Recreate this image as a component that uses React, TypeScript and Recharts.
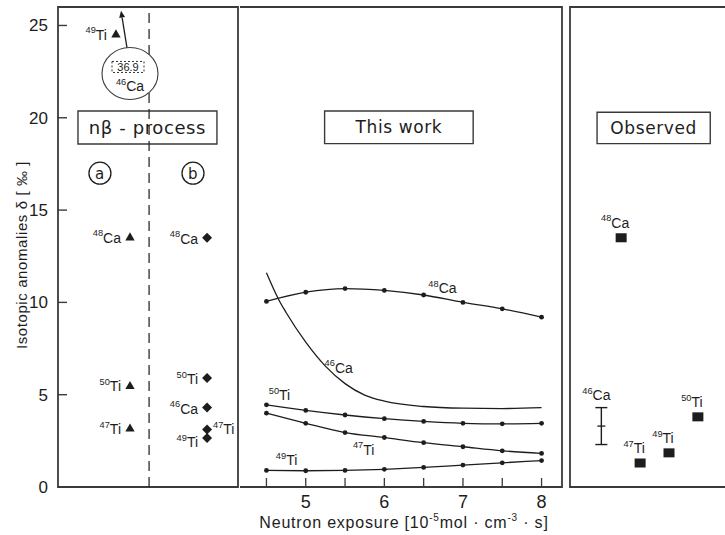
import React from "react";
import {
  ScatterChart,
  Scatter,
  LineChart,
  Line,
  XAxis,
  YAxis,
  ReferenceArea,
  ReferenceLine,
  ReferenceDot,
  ErrorBar,
  Symbols,
} from "recharts";

const INK = "#1d1d1d";
const FRAME = "#3a3a3a";
const NARROW = "'Liberation Sans', Arial, sans-serif";
const PLAIN = "'DejaVu Sans', 'Liberation Sans', sans-serif";

const Y_DOMAIN: [number, number] = [0, 26];
const Y_TICKS = [0, 5, 10, 15, 20, 25];

// left panel: nβ-process, model (a) triangles, model (b) diamonds
const NB_A_ISO = ["49Ti", "48Ca", "50Ti", "47Ti"];
const NB_A_POS = [3.22, 4, 4, 4];
const NB_A_VAL = [24.5, 13.5, 5.45, 3.15];
const NB_B_ISO = ["48Ca", "50Ti", "46Ca", "47Ti", "49Ti"];
const NB_B_POS = [8.28, 8.28, 8.28, 8.28, 8.28];
const NB_B_VAL = [13.5, 5.9, 4.3, 3.12, 2.65];
const NB_CA46 = 36.9; // off scale, shown as a circled note

// middle panel: "This work"
const EXPOSURE = [4.5, 5, 5.5, 6, 6.5, 7, 7.5, 8];
const X_TICKS = [4.5, 5, 5.5, 6, 6.5, 7, 7.5, 8];
const CA48 = [10.05, 10.55, 10.75, 10.65, 10.4, 10.0, 9.65, 9.2];
const TI50 = [4.45, 4.15, 3.9, 3.7, 3.55, 3.45, 3.42, 3.45];
const TI47 = [4.0, 3.45, 2.95, 2.68, 2.4, 2.18, 1.96, 1.82];
const TI49 = [0.9, 0.88, 0.9, 0.96, 1.06, 1.19, 1.31, 1.43];
const CA46_X = [4.5, 4.65, 4.75, 5, 5.25, 5.5, 5.75, 6, 6.5, 7, 7.5, 8];
const CA46 = [11.6, 10.2, 9.45, 7.85, 6.55, 5.6, 4.98, 4.65, 4.36, 4.27, 4.25, 4.3];

// right panel: observed
const OBS_ISO = ["48Ca", "47Ti", "49Ti", "50Ti"];
const OBS_POS = [3.1, 4.25, 6.0, 7.75];
const OBS_VAL = [13.5, 1.3, 1.85, 3.8];
const OBS_CA46_POS = 1.9;
const OBS_CA46_VAL = 3.3;
const OBS_CA46_ERR = 1.0;

const rows = (iso: string[], pos: number[], val: number[]) =>
  iso.map((s, i) => ({ iso: s, x: pos[i], y: val[i] }));
const series = (xs: number[], ys: number[]) => xs.map((x, i) => ({ x, v: ys[i] }));

// isotope label like ⁴⁸Ca
function Iso({ x, y, iso, anchor = "start", size = 14 }: any) {
  const m = iso.match(/^(\d+)(.*)$/);
  return (
    <text x={x} y={y} textAnchor={anchor} fontFamily={NARROW} fill={INK}>
      <tspan fontSize={size * 0.66} dy={-size * 0.45}>{m[1]}</tspan>
      <tspan fontSize={size} dy={size * 0.45}>{m[2]}</tspan>
    </text>
  );
}

const boxLabel = (text: string, size = 17) => (props: any) => {
  const vb = props.viewBox || {};
  return (
    <text
      x={vb.x + vb.width / 2}
      y={vb.y + vb.height / 2 + size * 0.36}
      textAnchor="middle"
      fontSize={size}
      fontFamily={PLAIN}
      letterSpacing={0.6}
      fill={INK}
    >
      {text}
    </text>
  );
};

function YTick({ x, y, payload }: any) {
  return (
    <g>
      {payload.value > 0 && <line x1={x} x2={x + 9} y1={y} y2={y} stroke={FRAME} strokeWidth={1.4} />}
      <text x={x - 10} y={y + 6} textAnchor="end" fontSize={17} fontFamily={NARROW} fill={INK}>
        {payload.value}
      </text>
    </g>
  );
}

function XTick({ x, y, payload }: any) {
  const v = payload.value;
  return (
    <g>
      <line x1={x} x2={x} y1={y} y2={y - 9} stroke={FRAME} strokeWidth={1.3} />
      {Number.isInteger(v) && (
        <text x={x} y={y + 21} textAnchor="middle" fontSize={18} fontFamily={NARROW} fill={INK}>
          {v}
        </text>
      )}
    </g>
  );
}

const yLabel = (props: any) => {
  const vb = props.viewBox || { x: 0, y: 7, width: 58, height: 480 };
  const cx = vb.x + 27;
  const cy = vb.y + vb.height / 2 + 8;
  return (
    <text
      transform={`translate(${cx},${cy}) rotate(-90)`}
      textAnchor="middle"
      fontSize={15}
      fontFamily={NARROW}
      letterSpacing={0.6}
      fill={INK}
    >
      Isotopic anomalies δ [ ‰ ]
    </text>
  );
};

const xLabel = (props: any) => {
  const vb = props.viewBox || { x: 6, y: 487, width: 316, height: 48 };
  return (
    <text
      x={vb.x + vb.width / 2}
      y={vb.y + 41}
      textAnchor="middle"
      fontSize={16}
      fontFamily={NARROW}
      fill={INK}
      letterSpacing={0.8}
    >
      <tspan>Neutron exposure [10</tspan>
      <tspan fontSize={10} dy={-7}>-5</tspan>
      <tspan dy={7}>mol · cm</tspan>
      <tspan fontSize={10} dy={-7}>-3</tspan>
      <tspan dy={7}> · s]</tspan>
    </text>
  );
};

const frame = (x2: number) => (
  <ReferenceArea x1={0} x2={x2} y1={0} y2={26} fill="none" stroke={FRAME} strokeWidth={1.8} ifOverflow="visible" />
);

function LeftPanel() {
  const a = rows(NB_A_ISO, NB_A_POS, NB_A_VAL);
  const b = rows(NB_B_ISO, NB_B_POS, NB_B_VAL);
  return (
    <ScatterChart width={240} height={535} margin={{ top: 7, right: 2, bottom: 48, left: 0 }}>
      <XAxis type="number" dataKey="x" domain={[0, 10]} hide />
      <YAxis
        type="number"
        dataKey="y"
        domain={Y_DOMAIN}
        ticks={Y_TICKS}
        interval={0}
        width={58}
        axisLine={false}
        tickLine={false}
        tickSize={0}
        tickMargin={0}
        tick={<YTick />}
        label={yLabel}
      />
      <ReferenceLine x={5.06} stroke={INK} strokeWidth={1.2} strokeDasharray="10 6" />
      {frame(10)}
      <ReferenceArea x1={1.11} x2={8.83} y1={18.58} y2={20.37} fill="#fff" fillOpacity={1} stroke={FRAME} strokeWidth={1.4} label={boxLabel("nβ - process", 18)} />
      <ReferenceDot x={2.33} y={17} r={11} fill="#fff" stroke={INK} strokeWidth={1.3} label={boxLabel("a", 15)} />
      <ReferenceDot x={7.5} y={17} r={11} fill="#fff" stroke={INK} strokeWidth={1.3} label={boxLabel("b", 15)} />
      <ReferenceDot
        x={4}
        y={22.4}
        r={27}
        shape={(p: any) => (
          <g>
            <ellipse cx={p.cx} cy={p.cy} rx={28} ry={26} fill="#fff" stroke={FRAME} strokeWidth={1.1} />
            <rect x={p.cx - 18} y={p.cy - 12} width={32} height={11} fill="none" stroke={INK} strokeWidth={0.9} strokeDasharray="2 2" />
            <text x={p.cx - 2} y={p.cy - 2.5} textAnchor="middle" fontSize={11} fontFamily={NARROW} fill={INK}>
              {NB_CA46}
            </text>
            <Iso x={p.cx} y={p.cy + 18} iso="46Ca" anchor="middle" size={14} />
          </g>
        )}
      />
      <ReferenceLine
        segment={[{ x: 3.89, y: 23.45 }, { x: 3.5, y: 25.8 }]}
        shape={(p: any) => {
          const ang = Math.atan2(p.y2 - p.y1, p.x2 - p.x1);
          const L = 7;
          const w = 3;
          const bx = p.x2 - L * Math.cos(ang);
          const by = p.y2 - L * Math.sin(ang);
          const nx = -Math.sin(ang) * w;
          const ny = Math.cos(ang) * w;
          return (
            <g>
              <line x1={p.x1} y1={p.y1} x2={bx} y2={by} stroke={INK} strokeWidth={1.3} />
              <path d={`M${p.x2},${p.y2} L${bx + nx},${by + ny} L${bx - nx},${by - ny} Z`} fill={INK} />
            </g>
          );
        }}
      />
      <Scatter
        data={a}
        isAnimationActive={false}
        shape={(p: any) => (
          <g>
            <Symbols cx={p.cx} cy={p.cy} type="triangle" size={38} fill={INK} />
            <Iso x={p.cx - 9} y={p.cy + 5} iso={p.payload.iso} anchor="end" />
          </g>
        )}
      />
      <Scatter
        data={b}
        isAnimationActive={false}
        shape={(p: any) => {
          const right = p.payload.iso === "47Ti";
          return (
            <g>
              <path d={`M${p.cx},${p.cy - 5} L${p.cx + 5},${p.cy} L${p.cx},${p.cy + 5} L${p.cx - 5},${p.cy} Z`} fill={INK} />
              {right ? (
                <Iso x={p.cx + 6} y={p.cy + 5} iso={p.payload.iso} anchor="start" />
              ) : (
                <Iso x={p.cx - 9} y={p.cy + (p.payload.iso === "49Ti" ? 9 : 6)} iso={p.payload.iso} anchor="end" />
              )}
            </g>
          );
        }}
      />
    </ScatterChart>
  );
}

const LINE_LABELS = [
  { iso: "48Ca", x: 6.56, y: 10.5 },
  { iso: "46Ca", x: 5.24, y: 6.2 },
  { iso: "50Ti", x: 4.53, y: 4.7 },
  { iso: "47Ti", x: 5.6, y: 1.75 },
  { iso: "49Ti", x: 4.62, y: 1.2 },
];

function MiddlePanel() {
  const dotted = { r: 2.4, fill: INK, stroke: "none" };
  const lines = [CA48, TI50, TI47, TI49];
  return (
    <LineChart width={330} height={535} margin={{ top: 7, right: 8, bottom: 0, left: 6 }}>
      <XAxis
        type="number"
        dataKey="x"
        domain={[4.24, 8.26]}
        allowDataOverflow
        ticks={X_TICKS}
        interval={0}
        height={48}
        axisLine={false}
        tickLine={false}
        tickSize={0}
        tickMargin={0}
        tick={<XTick />}
        label={xLabel}
      />
      <YAxis type="number" domain={Y_DOMAIN} hide />
      {frame(8.26)}
      <ReferenceArea x1={5.24} x2={7.13} y1={18.6} y2={20.37} fill="#fff" stroke={FRAME} strokeWidth={1.4} label={boxLabel("This work")} />
      {lines.map((ys, i) => (
        <Line
          key={i}
          data={series(EXPOSURE, ys)}
          dataKey="v"
          type="monotone"
          stroke={INK}
          strokeWidth={1.3}
          dot={dotted}
          isAnimationActive={false}
        />
      ))}
      <Line data={series(CA46_X, CA46)} dataKey="v" type="monotone" stroke={INK} strokeWidth={1.3} dot={false} isAnimationActive={false} />
      {LINE_LABELS.map((l) => (
        <ReferenceDot key={l.iso} x={l.x} y={l.y} r={1} shape={(p: any) => <Iso x={p.cx} y={p.cy} iso={l.iso} anchor="start" />} />
      ))}
    </LineChart>
  );
}

function RightPanel() {
  const obs = rows(OBS_ISO, OBS_POS, OBS_VAL);
  const ca46 = [{ iso: "46Ca", x: OBS_CA46_POS, y: OBS_CA46_VAL, err: OBS_CA46_ERR }];
  return (
    <ScatterChart width={175} height={535} margin={{ top: 7, right: 0, bottom: 48, left: 10 }}>
      <XAxis type="number" dataKey="x" domain={[0, 10]} hide />
      <YAxis type="number" dataKey="y" domain={Y_DOMAIN} hide />
      {frame(10)}
      <ReferenceArea x1={1.64} x2={8.5} y1={18.6} y2={20.3} fill="#fff" stroke={FRAME} strokeWidth={1.4} label={boxLabel("Observed")} />
      <Scatter
        data={obs}
        isAnimationActive={false}
        shape={(p: any) => (
          <g>
            <rect x={p.cx - 5.5} y={p.cy - 4.5} width={11} height={9} fill={INK} />
            <Iso x={p.cx - 6} y={p.cy - 10} iso={p.payload.iso} anchor="middle" />
          </g>
        )}
      />
      <Scatter
        data={ca46}
        isAnimationActive={false}
        shape={(p: any) => (
          <g>
            <line x1={p.cx - 4} x2={p.cx + 4} y1={p.cy} y2={p.cy} stroke={INK} strokeWidth={1.3} />
            <Iso x={p.cx - 5} y={p.cy - 26} iso={p.payload.iso} anchor="middle" />
          </g>
        )}
      >
        <ErrorBar dataKey="err" direction="y" width={6} stroke={INK} strokeWidth={1.4} />
      </Scatter>
    </ScatterChart>
  );
}

export default function App() {
  return (
    <div style={{ position: "relative", width: 725, height: 535, overflow: "hidden", background: "#fff" }}>
      <style>{"body{margin:0}"}</style>
      <div style={{ position: "absolute", left: 0, top: 0 }}>
        <LeftPanel />
      </div>
      <div style={{ position: "absolute", left: 240, top: 0 }}>
        <MiddlePanel />
      </div>
      <div style={{ position: "absolute", left: 560, top: 0 }}>
        <RightPanel />
      </div>
    </div>
  );
}
